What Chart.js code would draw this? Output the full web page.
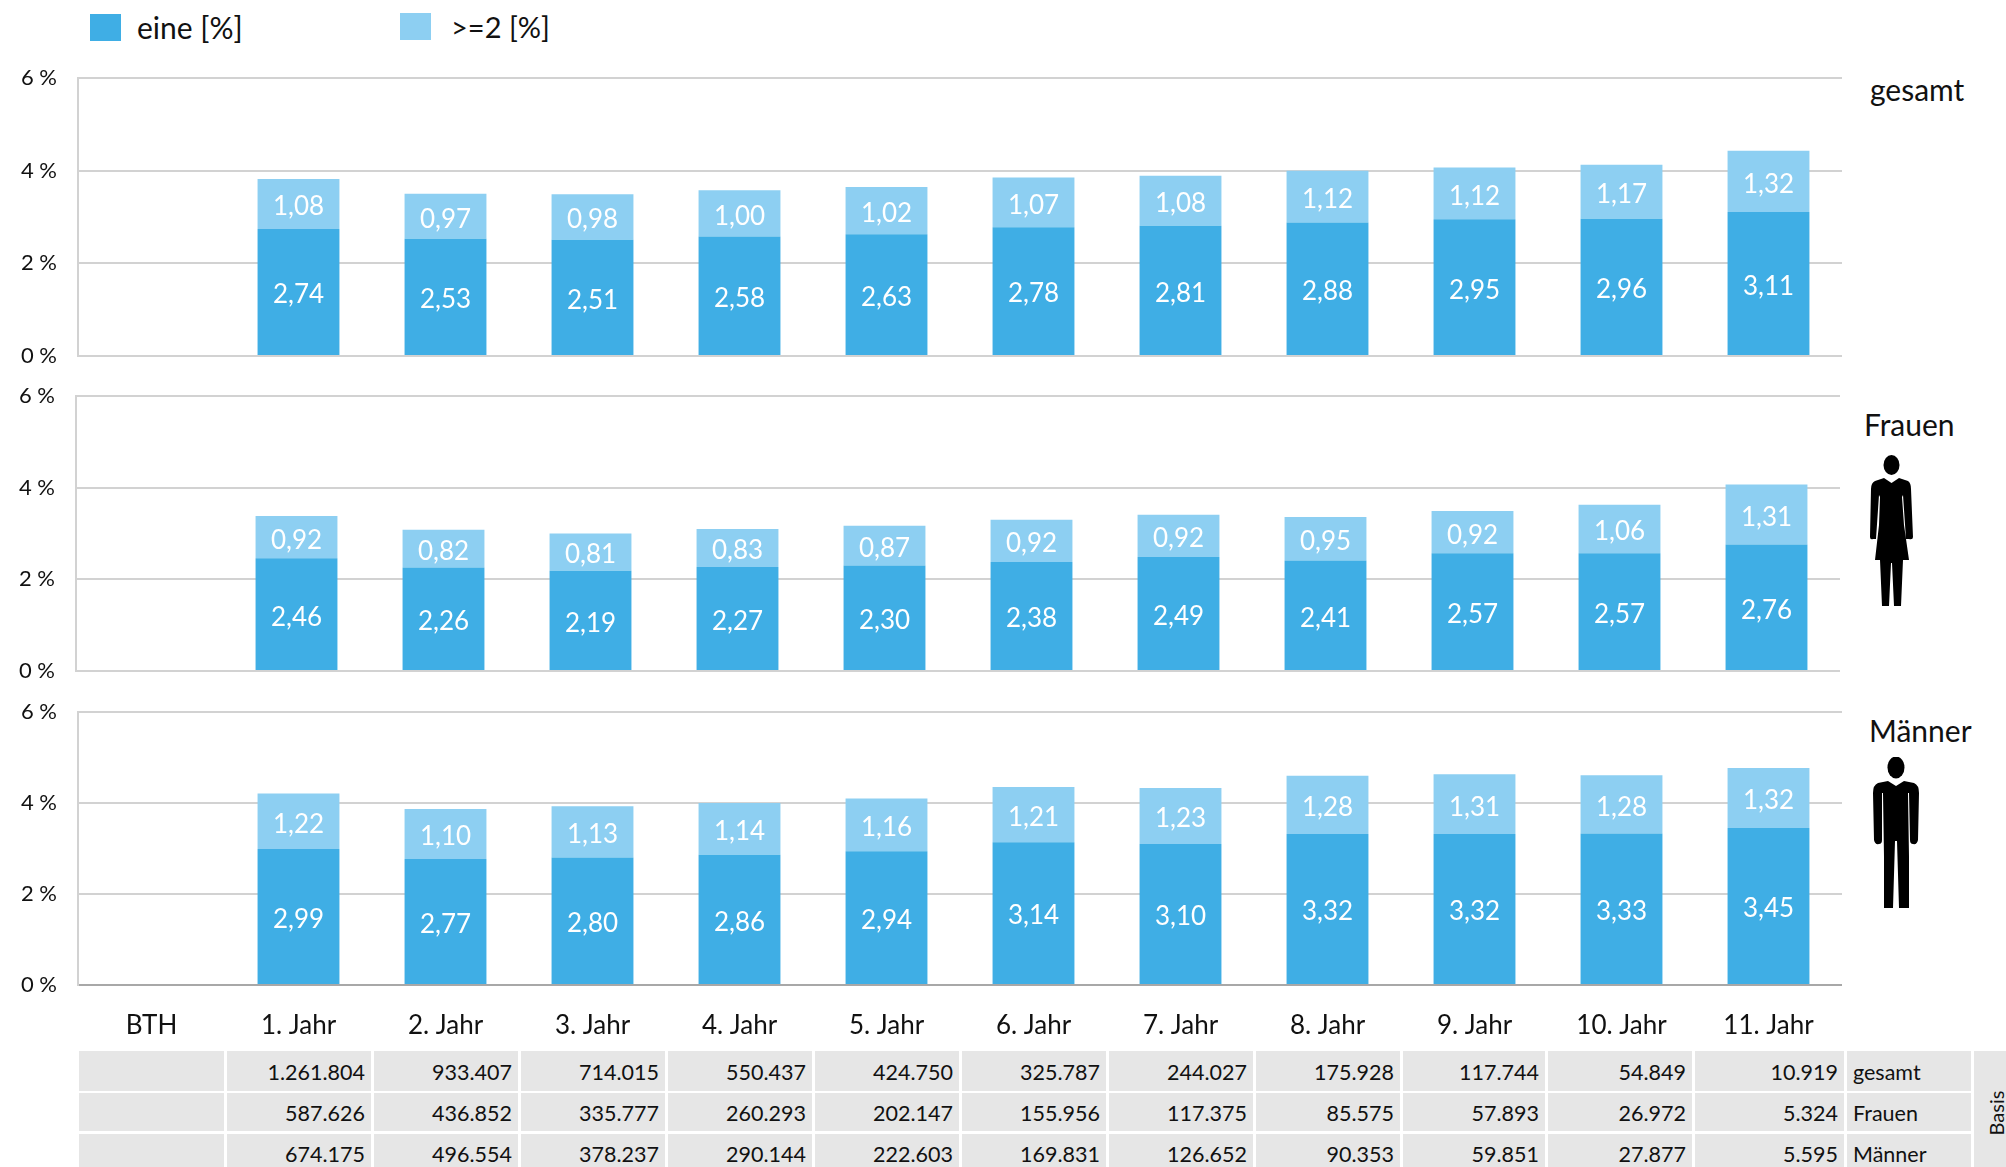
<!DOCTYPE html>
<html lang="de">
<head>
<meta charset="utf-8">
<title>Basis gesamt, Frauen, Männer</title>
<script src="https://cdn.jsdelivr.net/npm/chart.js@4"></script>
<style>
    html, body { margin: 0; padding: 0; background: #fff; }
    body { position: relative; width: 2006px; height: 1167px; overflow: hidden; font-family: Lato, sans-serif; color: #111; }
    canvas { position: absolute; left: 0; }
    .legend-box { position: absolute; width: 31px; height: 27px; }
    .txt { position: absolute; white-space: nowrap; line-height: 1; }
    .cell { position: absolute; background: #e6e6e6; font-size: 21.5px; line-height: 1; box-sizing: border-box; overflow: hidden; }
    .cell span { position: absolute; white-space: nowrap; }
    svg { position: absolute; }
</style>
</head>
<body>
<div class="legend-box" style="left:90px;top:14px;background:#3faee5"></div>
<div class="txt" style="left:137px;top:12px;font-size:30px">eine [%]</div>
<div class="legend-box" style="left:400px;top:13px;background:#8dcff2"></div>
<div class="txt" style="left:451px;top:12px;font-size:29px">&gt;=2 [%]</div>

<canvas id="chartGesamt"></canvas>
<canvas id="chartFrauen"></canvas>
<canvas id="chartMaenner"></canvas>

<div class="txt" style="left:1870px;top:74px;font-size:30px">gesamt</div>
<div class="txt" style="left:1864px;top:409px;font-size:30px">Frauen</div>
<div class="txt" style="left:1869px;top:715px;font-size:30px">Männer</div>

<!-- Figuren -->
<svg style="left:1870px;top:455px" width="43" height="151" viewBox="0 0 43 151">
    <ellipse cx="21.5" cy="10" rx="8" ry="10"/>
    <path d="M14 23 L21.5 28 L29 23 L38 26 Q41 28 41 34 L43 82 Q43 85 39 84 L36 84 L33 40 L32 42 L34 70 L39 105 L33 105 L31 151 L24 151 L22 108 L21 108 L19 151 L12 151 L10 105 L5 105 L9 70 L10 42 L9 40 L6 84 L3 84 Q0 85 0 82 L1 34 Q1 28 5 26 Z"/>
</svg>
<svg style="left:1873px;top:757px" width="46" height="151" viewBox="0 0 46 151">
    <ellipse cx="23" cy="10.5" rx="8.5" ry="11"/>
    <path d="M15 24 L23 29 L31 24 L41 26 Q46 28 46 36 L45 83 Q44 88 40 87 Q37 87 37 83 L36 36 L35 36 L36 100 L36 151 L26 151 L24 84 L22 84 L20 151 L11 151 L11 100 L10 36 L9 36 L9 83 Q9 87 6 87 Q2 88 1 83 L0 36 Q0 28 5 26 Z"/>
</svg>

<div id="basisTable"></div>

<script>
const categories = ['BTH', '1. Jahr', '2. Jahr', '3. Jahr', '4. Jahr', '5. Jahr', '6. Jahr', '7. Jahr', '8. Jahr', '9. Jahr', '10. Jahr', '11. Jahr'];
const yTicks = [0, 2, 4, 6];

const gesamtEine = [null, 2.74, 2.53, 2.51, 2.58, 2.63, 2.78, 2.81, 2.88, 2.95, 2.96, 3.11];
const gesamtZwei = [null, 1.08, 0.97, 0.98, 1.00, 1.02, 1.07, 1.08, 1.12, 1.12, 1.17, 1.32];
const frauenEine = [null, 2.46, 2.26, 2.19, 2.27, 2.30, 2.38, 2.49, 2.41, 2.57, 2.57, 2.76];
const frauenZwei = [null, 0.92, 0.82, 0.81, 0.83, 0.87, 0.92, 0.92, 0.95, 0.92, 1.06, 1.31];
const maennerEine = [null, 2.99, 2.77, 2.80, 2.86, 2.94, 3.14, 3.10, 3.32, 3.32, 3.33, 3.45];
const maennerZwei = [null, 1.22, 1.10, 1.13, 1.14, 1.16, 1.21, 1.23, 1.28, 1.31, 1.28, 1.32];

const basisGesamt = ['', '1.261.804', '933.407', '714.015', '550.437', '424.750', '325.787', '244.027', '175.928', '117.744', '54.849', '10.919'];
const basisFrauen = ['', '587.626', '436.852', '335.777', '260.293', '202.147', '155.956', '117.375', '85.575', '57.893', '26.972', '5.324'];
const basisMaenner = ['', '674.175', '496.554', '378.237', '290.144', '222.603', '169.831', '126.652', '90.353', '59.851', '27.877', '5.595'];
const basisNamen = ['gesamt', 'Frauen', 'Männer'];

// Werte in die Segmente schreiben (weiss, mittig)
const barLabels = {
    id: 'barLabels',
    afterDatasetsDraw(chart) {
        const c = chart.ctx;
        c.save();
        c.fillStyle = '#fff';
        c.font = '26px Lato';
        c.textAlign = 'center';
        c.textBaseline = 'middle';
        chart.data.datasets.forEach((ds, i) => {
            chart.getDatasetMeta(i).data.forEach((bar, j) => {
                if (ds.data[j] === null) return;
                const p = bar.getCenterPoint();
                c.fillText(ds.data[j].toFixed(2).replace('.', ','), p.x, p.y + 3);
            });
        });
        c.restore();
    }
};

function noPadding(scale) {
    scale.paddingTop = 0;
    scale.paddingBottom = 0;
    scale.paddingLeft = 0;
    scale.paddingRight = 0;
}

function drawPanel(id, eine, zwei, box) {
    const canvas = document.getElementById(id);
    canvas.width = box.right;
    canvas.height = box.bottom - box.top + 20 + box.below;
    canvas.style.top = (box.top - 20) + 'px';

    new Chart(canvas, {
        type: 'bar',
        data: {
            labels: categories,
            datasets: [
                { label: 'eine [%]', data: eine, backgroundColor: '#3faee5', barPercentage: 0.557, categoryPercentage: 1 },
                { label: '>=2 [%]', data: zwei, backgroundColor: '#8dcff2', barPercentage: 0.557, categoryPercentage: 1 }
            ]
        },
        options: {
            responsive: false,
            animation: false,
            layout: { padding: { top: 20, left: 0, right: 0, bottom: 0 } },
            plugins: { legend: { display: false }, tooltip: { enabled: false } },
            scales: {
                x: {
                    stacked: true,
                    grid: { display: false },
                    border: { color: box.base, width: 2 },
                    ticks: {
                        display: box.showLabels,
                        color: '#111',
                        font: { family: 'Lato', size: 26 },
                        padding: 17,
                        maxRotation: 0,
                        autoSkip: false
                    },
                    afterFit(scale) {
                        noPadding(scale);
                        scale.height = box.below;
                    }
                },
                y: {
                    stacked: true,
                    min: 0,
                    max: 6,
                    afterBuildTicks(scale) { scale.ticks = yTicks.map(v => ({ value: v })); },
                    grid: { color: '#d2d2d2', lineWidth: 2, drawTicks: false },
                    border: { color: '#d2d2d2', width: 2 },
                    ticks: {
                        color: '#111',
                        font: { family: 'Lato', size: 22 },
                        padding: 21,
                        callback: v => v + ' %'
                    },
                    afterFit(scale) {
                        noPadding(scale);
                        scale.width = box.left;
                    }
                }
            }
        },
        plugins: [barLabels]
    });
}

drawPanel('chartGesamt', gesamtEine, gesamtZwei, { left: 78, right: 1842, top: 78, bottom: 356, below: 8, base: '#d2d2d2', showLabels: false });
drawPanel('chartFrauen', frauenEine, frauenZwei, { left: 76, right: 1840, top: 396, bottom: 671, below: 8, base: '#d2d2d2', showLabels: false });
drawPanel('chartMaenner', maennerEine, maennerZwei, { left: 78, right: 1842, top: 712, bottom: 985, below: 65, base: '#a8a8a8', showLabels: true });

// Tabelle unter dem Diagramm
const table = document.getElementById('basisTable');
const rowTops = [1051, 1093, 1134];
const rowBottoms = [1091, 1131, 1167];
const rowText = [11, 10, 10];
const colLefts = [79, 227, 374, 521, 668, 815, 962, 1109, 1256, 1403, 1548, 1695, 1847];
const colRights = [224, 371, 518, 665, 812, 959, 1106, 1253, 1400, 1545, 1692, 1844, 1971];

function addCell(left, top, right, bottom, text, isName, textTop) {
    const cell = document.createElement('div');
    cell.className = 'cell';
    cell.style.cssText = `left:${left}px;top:${top}px;width:${right - left}px;height:${bottom - top}px`;
    if (text) {
        const s = document.createElement('span');
        s.textContent = text;
        s.style.top = textTop + 'px';
        if (isName) s.style.left = '6px'; else s.style.right = '6px';
        cell.appendChild(s);
    }
    table.appendChild(cell);
}

[basisGesamt, basisFrauen, basisMaenner].forEach((row, r) => {
    row.forEach((val, c) => addCell(colLefts[c], rowTops[r], colRights[c], rowBottoms[r], val, false, rowText[r]));
    addCell(colLefts[12], rowTops[r], colRights[12], rowBottoms[r], basisNamen[r], true, rowText[r]);
});

const basisCell = document.createElement('div');
basisCell.className = 'cell';
basisCell.style.cssText = 'left:1974px;top:1051px;width:32px;height:116px';
basisCell.innerHTML = '<span style="left:22px;top:62px;font-size:20px;transform:translate(-50%,-50%) rotate(-90deg)">Basis</span>';
table.appendChild(basisCell);
</script>
</body>
</html>
